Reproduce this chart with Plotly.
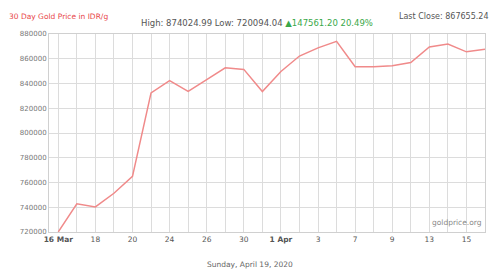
import plotly.graph_objects as go

dates = ["16 Mar", "17 Mar", "18 Mar", "19 Mar", "20 Mar", "23 Mar", "24 Mar", "25 Mar",
         "26 Mar", "27 Mar", "30 Mar", "31 Mar", "1 Apr", "2 Apr", "3 Apr", "6 Apr",
         "7 Apr", "8 Apr", "9 Apr", "10 Apr", "13 Apr", "14 Apr", "15 Apr", "16 Apr"]
prices = [720094.04, 742800, 740300, 751300, 765000, 832400, 842300, 833700,
          843200, 852700, 851400, 833500, 849700, 862200, 868800, 874024.99,
          853600, 853600, 854400, 857000, 869500, 871900, 865600, 867655.24]
tick_labels = ["<b>16 Mar</b>", "", "18", "", "20", "", "24", "", "26", "", "30", "",
               "<b>1 Apr</b>", "", "3", "", "7", "", "9", "", "13", "", "15", ""]
y_ticks = [720000, 740000, 760000, 780000, 800000, 820000, 840000, 860000, 880000]

idx = list(range(len(dates)))
font = "DejaVu Sans"

L, R, T, B = 49, 485, 34, 232
W, H = 492, 269


def px(x):
    return (x - L) / (R - L)


def py(y):
    return (B - y) / (B - T)


fig = go.Figure()
fig.add_trace(go.Scatter(x=idx, y=prices, mode="lines",
                         line=dict(color="#f08a8a", width=1.5),
                         text=dates, hoverinfo="text+y"))

fig.update_layout(
    width=W, height=H,
    margin=dict(l=L, r=W - R, t=T, b=H - B),
    paper_bgcolor="white", plot_bgcolor="white",
    showlegend=False,
    font=dict(family=font, size=7, color="#666666"),
    xaxis=dict(range=[-0.5, 23], tickvals=idx, ticktext=tick_labels,
               showgrid=True, gridcolor="#dcdcdc", gridwidth=1,
               showline=True, linecolor="#d0d0d0", mirror=True,
               ticks="", tickfont=dict(size=7.5, color="#555555"), zeroline=False,
               automargin=False),
    yaxis=dict(range=[720000, 880000], tickvals=y_ticks,
               ticktext=[str(v) for v in y_ticks],
               showgrid=True, gridcolor="#dcdcdc", gridwidth=1,
               showline=True, linecolor="#d0d0d0", mirror=True,
               ticks="", tickfont=dict(size=7, color="#777777"), zeroline=False,
               automargin=False),
    annotations=[
        dict(x=px(7), y=py(16), xref="paper", yref="paper",
             xanchor="left", yanchor="middle", showarrow=False,
             text="30 Day Gold Price in IDR/g",
             font=dict(family=font, size=7.5, color="#e8474a")),
        dict(x=px(139), y=py(23), xref="paper", yref="paper",
             xanchor="left", yanchor="middle", showarrow=False,
             text="High: 874024.99 Low: 720094.04 <span style='color:#3aa84a'>▲147561.20 20.49%</span>",
             font=dict(family=font, size=8.5, color="#555555")),
        dict(x=px(491), y=py(16), xref="paper", yref="paper",
             xanchor="right", yanchor="middle", showarrow=False,
             text="Last Close: 867655.24",
             font=dict(family=font, size=8, color="#555555")),
        dict(x=px(484), y=py(229), xref="paper", yref="paper",
             xanchor="right", yanchor="bottom", showarrow=False,
             text="goldprice.org",
             font=dict(family=font, size=7.5, color="#888888")),
        dict(x=px(250), y=py(264), xref="paper", yref="paper",
             xanchor="center", yanchor="middle", showarrow=False,
             text="Sunday, April 19, 2020",
             font=dict(family=font, size=7.5, color="#666666")),
    ],
)
fig.write_html("out.html",
               config={"displayModeBar": False},
               post_script="document.body.style.margin='0';document.body.style.overflow='hidden';")
